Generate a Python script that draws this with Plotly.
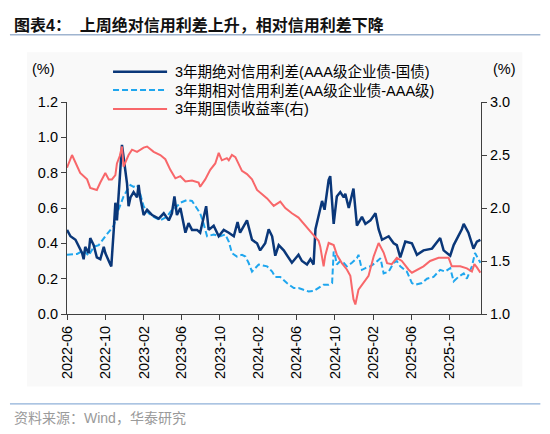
import plotly.graph_objects as go

# 3年期绝对信用利差(AAA级企业债-国债), 左轴
abs_dates = [
    "2022-06-01", "2022-06-12", "2022-06-28", "2022-07-08", "2022-07-19", "2022-07-24", "2022-07-29",
    "2022-08-09", "2022-08-14", "2022-08-25", "2022-08-30", "2022-09-04", "2022-09-15", "2022-09-26",
    "2022-10-01", "2022-10-06", "2022-10-12", "2022-10-17", "2022-10-20", "2022-10-28", "2022-11-02",
    "2022-11-07", "2022-11-12", "2022-11-18", "2022-11-23", "2022-11-28", "2022-12-04", "2022-12-09",
    "2022-12-14", "2022-12-20", "2022-12-30", "2023-01-10", "2023-01-15", "2023-01-20", "2023-01-31",
    "2023-02-11", "2023-02-27", "2023-03-20", "2023-04-05", "2023-04-21", "2023-05-01", "2023-05-09",
    "2023-05-17", "2023-05-28", "2023-06-13", "2023-06-23", "2023-07-04", "2023-07-20", "2023-07-30",
    "2023-08-18", "2023-08-26", "2023-09-11", "2023-09-27", "2023-10-13", "2023-10-29", "2023-11-14",
    "2023-11-26", "2023-12-04", "2023-12-26", "2024-01-11", "2024-01-27", "2024-02-06", "2024-02-22",
    "2024-03-04", "2024-03-15", "2024-03-25", "2024-04-05", "2024-04-21", "2024-05-17", "2024-06-07",
    "2024-06-18", "2024-07-04", "2024-07-15", "2024-07-25", "2024-07-31", "2024-08-10", "2024-08-21",
    "2024-08-29", "2024-09-11", "2024-09-16", "2024-09-27", "2024-10-07", "2024-10-18", "2024-10-29",
    "2024-11-03", "2024-11-14", "2024-11-29", "2024-12-10", "2024-12-26", "2025-01-06", "2025-01-22",
    "2025-02-07", "2025-02-17", "2025-02-28", "2025-03-21", "2025-04-06", "2025-04-16", "2025-04-27",
    "2025-05-13", "2025-06-03", "2025-06-19", "2025-07-10", "2025-08-06", "2025-09-01", "2025-09-12",
    "2025-10-03", "2025-10-14", "2025-11-09", "2025-11-15", "2025-11-30", "2025-12-16", "2025-12-27",
    "2026-01-07",
]
abs_spread = [
    0.476, 0.44, 0.42, 0.38, 0.345, 0.31, 0.38,
    0.345, 0.43, 0.39, 0.345, 0.32, 0.31, 0.38,
    0.345, 0.32, 0.30, 0.28, 0.27, 0.48, 0.63,
    0.53, 0.66, 0.82, 0.957, 0.89, 0.82, 0.74,
    0.61, 0.66, 0.69, 0.66, 0.73, 0.66, 0.56,
    0.59, 0.56, 0.54, 0.57, 0.53, 0.57, 0.665,
    0.56, 0.60, 0.46, 0.514, 0.476, 0.476, 0.46,
    0.61, 0.476, 0.50, 0.44, 0.476, 0.46, 0.44,
    0.52, 0.46, 0.53, 0.42, 0.40, 0.36, 0.40,
    0.48, 0.44, 0.33, 0.39, 0.36, 0.29, 0.335,
    0.30, 0.28, 0.31, 0.28, 0.48, 0.55, 0.64,
    0.59, 0.76, 0.78, 0.51, 0.665, 0.69, 0.66,
    0.68, 0.60, 0.71, 0.50, 0.55, 0.51, 0.53,
    0.57, 0.48, 0.42, 0.44, 0.40, 0.39, 0.32,
    0.41, 0.40, 0.335, 0.36, 0.37, 0.43, 0.36,
    0.33, 0.39, 0.48, 0.51, 0.46, 0.37, 0.41,
    0.42,
]

# 3年期相对信用利差(AA级企业债-AAA级), 左轴
rel_dates = [
    "2022-06-01", "2022-07-03", "2022-07-24", "2022-08-09", "2022-08-25", "2022-09-10", "2022-10-01",
    "2022-10-17", "2022-10-28", "2022-11-12", "2022-11-28", "2022-12-09", "2022-12-20", "2022-12-30",
    "2023-01-10", "2023-01-20", "2023-01-31", "2023-02-16", "2023-03-04", "2023-03-25", "2023-04-15",
    "2023-05-01", "2023-05-12", "2023-05-28", "2023-06-18", "2023-07-04", "2023-07-20", "2023-07-30",
    "2023-08-10", "2023-08-21", "2023-09-11", "2023-10-02", "2023-10-18", "2023-10-29", "2023-11-08",
    "2023-11-24", "2023-12-10", "2023-12-21", "2023-12-31", "2024-01-11", "2024-02-01", "2024-02-28",
    "2024-03-15", "2024-03-25", "2024-04-10", "2024-05-01", "2024-05-23", "2024-06-07", "2024-06-23",
    "2024-07-09", "2024-07-25", "2024-08-10", "2024-08-26", "2024-09-11", "2024-09-22", "2024-09-27",
    "2024-10-02", "2024-10-07", "2024-10-18", "2024-10-29", "2024-11-08", "2024-11-24", "2024-12-10",
    "2024-12-15", "2024-12-26", "2025-01-06", "2025-01-22", "2025-02-07", "2025-02-23", "2025-03-05",
    "2025-03-21", "2025-04-06", "2025-04-16", "2025-04-27", "2025-05-18", "2025-06-03", "2025-06-14",
    "2025-07-05", "2025-07-21", "2025-08-11", "2025-09-01", "2025-09-17", "2025-10-03", "2025-10-14",
    "2025-10-29", "2025-11-15", "2025-11-25", "2025-12-11", "2025-12-21", "2026-01-01", "2026-01-07",
]
rel_spread = [
    0.335, 0.34, 0.36, 0.33, 0.38, 0.39, 0.44,
    0.476, 0.50, 0.59, 0.665, 0.70, 0.73, 0.72,
    0.73, 0.68, 0.61, 0.57, 0.55, 0.53, 0.55,
    0.59, 0.60, 0.63, 0.645, 0.64, 0.60, 0.57,
    0.51, 0.44, 0.45, 0.44, 0.45, 0.41, 0.345,
    0.325, 0.335, 0.325, 0.29, 0.24, 0.28, 0.27,
    0.24, 0.21, 0.21, 0.175, 0.147, 0.147, 0.137,
    0.128, 0.13, 0.147, 0.166, 0.166, 0.175, 0.354,
    0.325, 0.28, 0.30, 0.29, 0.27, 0.29, 0.316,
    0.335, 0.25, 0.26, 0.27, 0.29, 0.316, 0.23,
    0.24, 0.29, 0.30, 0.27, 0.24, 0.175, 0.166,
    0.175, 0.20, 0.21, 0.25, 0.24, 0.26, 0.185,
    0.21, 0.23, 0.20, 0.27, 0.345, 0.31, 0.29,
]

# 3年期国债收益率(右)
tsy_dates = [
    "2022-06-01", "2022-06-17", "2022-07-13", "2022-08-04", "2022-08-14", "2022-09-04", "2022-09-15",
    "2022-10-01", "2022-10-12", "2022-10-22", "2022-11-02", "2022-11-07", "2022-11-16", "2022-11-23",
    "2022-11-28", "2022-12-07", "2022-12-14", "2022-12-25", "2023-01-10", "2023-01-31", "2023-02-11",
    "2023-03-04", "2023-03-25", "2023-04-10", "2023-04-26", "2023-05-12", "2023-05-28", "2023-06-13",
    "2023-07-04", "2023-07-25", "2023-07-30", "2023-08-15", "2023-08-31", "2023-09-16", "2023-09-27",
    "2023-10-07", "2023-10-23", "2023-10-29", "2023-11-08", "2023-11-19", "2023-12-10", "2023-12-26",
    "2024-01-11", "2024-01-27", "2024-02-12", "2024-02-28", "2024-03-20", "2024-04-10", "2024-04-26",
    "2024-05-17", "2024-06-07", "2024-06-29", "2024-07-20", "2024-08-10", "2024-08-15", "2024-08-26",
    "2024-08-31", "2024-09-11", "2024-09-27", "2024-10-07", "2024-10-23", "2024-11-08", "2024-11-19",
    "2024-11-29", "2024-12-05", "2024-12-15", "2024-12-31", "2025-01-16", "2025-02-01", "2025-02-17",
    "2025-03-05", "2025-03-16", "2025-03-31", "2025-04-16", "2025-05-02", "2025-05-23", "2025-06-03",
    "2025-06-24", "2025-07-10", "2025-07-31", "2025-08-27", "2025-09-28", "2025-10-08", "2025-11-04",
    "2025-11-25", "2025-12-11", "2025-12-19", "2025-12-27", "2026-01-07",
]
tsy_yield = [
    2.38, 2.50, 2.33, 2.27, 2.19, 2.17, 2.24,
    2.33, 2.27, 2.27, 2.31, 2.42, 2.49, 2.58,
    2.39, 2.45, 2.50, 2.55, 2.53, 2.57, 2.58,
    2.53, 2.50, 2.46, 2.36, 2.28, 2.30, 2.25,
    2.26, 2.24, 2.20, 2.27, 2.36, 2.42, 2.52,
    2.45, 2.47, 2.45, 2.50, 2.48, 2.35, 2.32,
    2.27, 2.17, 2.13, 2.09, 2.02, 2.06, 2.00,
    1.95, 1.91, 1.83, 1.76, 1.69, 1.64, 1.45,
    1.55, 1.67, 1.65, 1.56, 1.48, 1.42, 1.36,
    1.14, 1.09, 1.23, 1.29, 1.36, 1.54, 1.67,
    1.58, 1.48, 1.47, 1.53, 1.50, 1.42, 1.39,
    1.42, 1.45, 1.50, 1.53, 1.53, 1.45, 1.45,
    1.43, 1.40, 1.47, 1.44, 1.39,
]

names = [
    "3年期绝对信用利差(AAA级企业债-国债)",
    "3年期相对信用利差(AA级企业债-AAA级)",
    "3年期国债收益率(右)",
]
colors = ["#0a3779", "#1fa6ee", "#f8676a"]
dashes = ["solid", "dash", "solid"]

FONT = "Liberation Sans, Arial, Noto Sans CJK SC"

fig = go.Figure()
fig.add_trace(go.Scatter(x=tsy_dates, y=tsy_yield, name=names[2], yaxis="y2",
                         mode="lines", line=dict(color=colors[2], width=2), showlegend=False))
fig.add_trace(go.Scatter(x=rel_dates, y=rel_spread, name=names[1],
                         mode="lines", line=dict(color=colors[1], width=2, dash="6px,3px"), showlegend=False))
fig.add_trace(go.Scatter(x=abs_dates, y=abs_spread, name=names[0],
                         mode="lines", line=dict(color=colors[0], width=2.5), showlegend=False))

# the page puts the figure 8px in from the window corner, so the figure is 8px smaller
OFF = 8
W, H = 550 - OFF, 434 - OFF
# plot area in window pixels: x 67..480.7, y 101.9..314.3
L, R, T, B = 67, 480.7, 101.9, 314.3
def px(x):
    return (x - L) / (R - L)
def py(y):
    return (B - y) / (B - T)

shapes = [
    dict(type="rect", xref="paper", yref="paper", x0=px(27), x1=px(522), y0=py(387), y1=py(52),
         fillcolor="#f9f9f9", line=dict(width=0), layer="below"),
    dict(type="line", xref="paper", yref="paper", x0=px(10), x1=px(540), y0=py(34.5), y1=py(34.5),
         line=dict(color="#9fb4cf", width=1.5)),
    dict(type="line", xref="paper", yref="paper", x0=px(10), x1=px(540), y0=py(404.3), y1=py(404.3),
         line=dict(color="#8fb0d8", width=1.2)),
]
annotations = [
    dict(text="<b>图表4：  上周绝对信用利差上升，相对信用利差下降</b>", xref="paper", yref="paper",
         x=px(12), y=py(25), xanchor="left", yanchor="middle", showarrow=False,
         font=dict(size=16, color="#111111", family=FONT)),
    dict(text="资料来源：Wind，华泰研究", xref="paper", yref="paper",
         x=px(12), y=py(418), xanchor="left", yanchor="middle", showarrow=False,
         font=dict(size=14, color="#9a9a9a", family=FONT)),
    dict(text="(%)", xref="paper", yref="paper", x=px(44), y=py(69), xanchor="center", yanchor="middle",
         showarrow=False, font=dict(size=14.5, color="#000000", family=FONT)),
    dict(text="(%)", xref="paper", yref="paper", x=px(504), y=py(69), xanchor="center", yanchor="middle",
         showarrow=False, font=dict(size=14.5, color="#000000", family=FONT)),
]

# legend drawn by hand so the line samples are as long as in the reference
legend_rows = [71.5, 90, 109]
for i, row in enumerate(legend_rows):
    shapes.append(dict(type="line", xref="paper", yref="paper", x0=px(113), x1=px(167),
                       y0=py(row), y1=py(row),
                       line=dict(color=colors[i], width=2.5 if i == 0 else 2,
                                 dash="6px,3px" if dashes[i] == "dash" else "solid")))
    annotations.append(dict(text=names[i], xref="paper", yref="paper", x=px(173), y=py(row),
                            xanchor="left", yanchor="middle", showarrow=False,
                            font=dict(size=14.5, color="#000000", family=FONT)))

fig.update_layout(
    width=W, height=H,
    margin=dict(l=L - OFF, r=550 - R, t=T - OFF, b=434 - B, pad=0),
    paper_bgcolor="white", plot_bgcolor="rgba(0,0,0,0)",
    font=dict(family=FONT, size=14.5, color="#000000"),
    shapes=shapes, annotations=annotations,
    xaxis=dict(type="date", range=["2022-06-01", "2026-01-09"], tick0="2022-06-01", dtick="M4",
               tickformat="%Y-%m", tickangle=-90, showgrid=False, zeroline=False,
               showline=True, linecolor="#404040", linewidth=1.2,
               ticks="outside", ticklen=5, tickcolor="#404040",
               tickfont=dict(size=14.5, color="#000000")),
    yaxis=dict(range=[0, 1.2], dtick=0.2, tickformat=".1f", showgrid=False, zeroline=False,
               showline=True, linecolor="#404040", linewidth=1.2,
               ticks="outside", ticklen=5, tickcolor="#404040",
               tickfont=dict(size=14.5, color="#000000")),
    yaxis2=dict(range=[1, 3], dtick=0.5, tickformat=".1f", overlaying="y", side="right",
                showgrid=False, zeroline=False,
                showline=True, linecolor="#404040", linewidth=1.2,
                ticks="outside", ticklen=5, tickcolor="#404040",
                tickfont=dict(size=14.5, color="#000000")),
)

fig.write_html("out.html")
